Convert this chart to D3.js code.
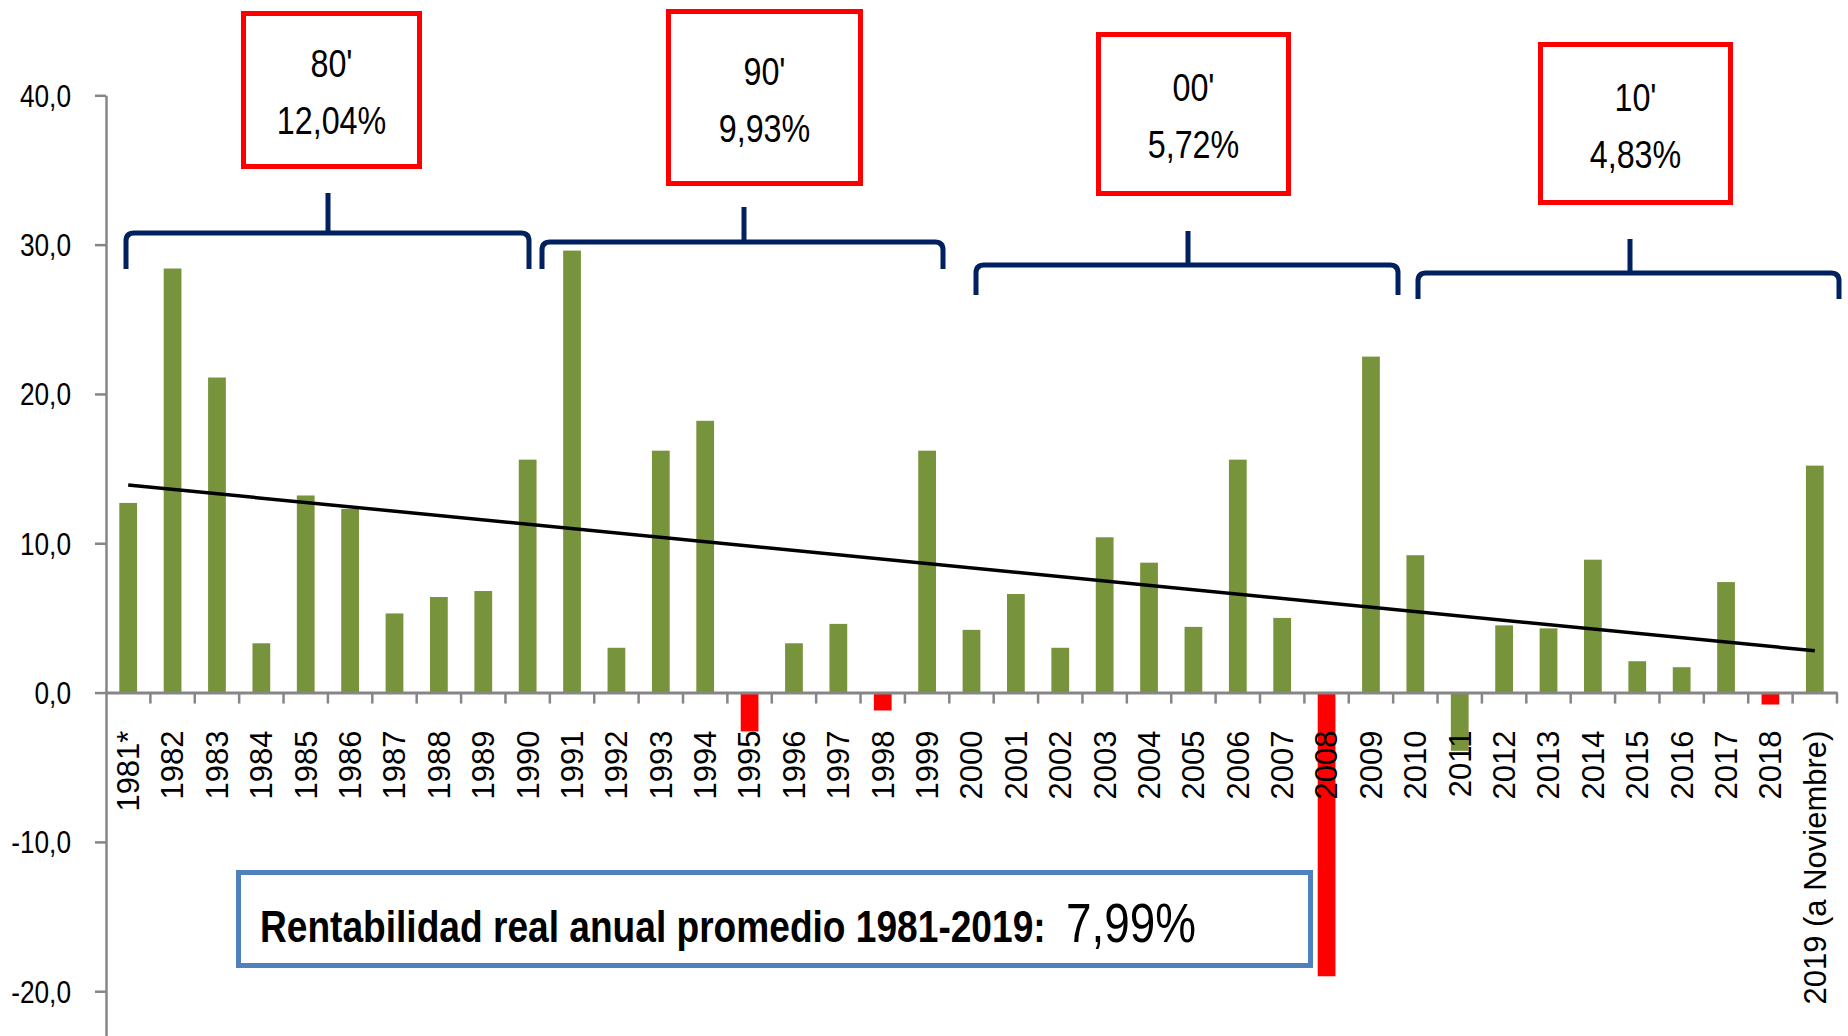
<!DOCTYPE html>
<html lang="es">
<head>
<meta charset="UTF-8">
<title>Rentabilidad real anual</title>
<script src="https://cdn.jsdelivr.net/npm/d3@7"></script>
<style>
    body { margin: 0; background: #fff; }
    svg { display: block; }
    text { font-family: "Liberation Sans", Arial, sans-serif; }
</style>
</head>
<body>
<div id="chart"></div>
<script>
// datos
const years = ["1981*", "1982", "1983", "1984", "1985", "1986", "1987", "1988", "1989", "1990",
    "1991", "1992", "1993", "1994", "1995", "1996", "1997", "1998", "1999", "2000",
    "2001", "2002", "2003", "2004", "2005", "2006", "2007", "2008", "2009", "2010",
    "2011", "2012", "2013", "2014", "2015", "2016", "2017", "2018", "2019 (a Noviembre)"]
const returns = [12.7, 28.4, 21.1, 3.3, 13.2, 12.3, 5.3, 6.4, 6.8, 15.6,
    29.6, 3.0, 16.2, 18.2, -2.6, 3.3, 4.6, -1.2, 16.2, 4.2,
    6.6, 3.0, 10.4, 8.7, 4.4, 15.6, 5.0, -19.0, 22.5, 9.2,
    -3.9, 4.5, 4.3, 8.9, 2.1, 1.7, 7.4, -0.8, 15.2]
const redYears = ["1995", "1998", "2008", "2018"]
const trend = [13.9, 2.8]          // tendencia lineal, primer y último año
const yTicks = [40, 30, 20, 10, 0, -10, -20]
const decades = ["80'", "90'", "00'", "10'"]
const decadeAvg = ["12,04%", "9,93%", "5,72%", "4,83%"]
const summaryLabel = "Rentabilidad real anual promedio 1981-2019:"
const summaryValue = "7,99%"

const width = 1848, height = 1036

const svg = d3.select('#chart').append('svg')
    .attr('width', width)
    .attr('height', height)

const x = d3.scaleBand()
    .domain(years)
    .range([106, 1837])
    .paddingInner(0.6)
    .paddingOuter(0.3)

const y = d3.scaleLinear()
    .domain([-23.2, 40])
    .range([1039, 95.3])

const es = d3.formatLocale({decimal: ',', thousands: '.', grouping: [3], currency: ['', ''], minus: '-'})
const fmt = es.format('.1f')

// estrecha un texto en horizontal (fuente angosta tipo Calibri/Tahoma)
function narrow(sel, ax, ay, sx) {
    sel.attr('x', 0).attr('y', 0)
        .attr('transform', `translate(${ax},${ay}) scale(${sx},1)`)
}
function fitTo(sel, ax, ay, w) {
    sel.attr('x', 0).attr('y', 0)
    const len = sel.node().getComputedTextLength()
    sel.attr('transform', `translate(${ax},${ay}) scale(${w / len},1)`)
}

// barras
svg.append('g').selectAll('rect')
    .data(returns)
    .join('rect')
    .attr('x', (d, i) => x(years[i]))
    .attr('width', x.bandwidth())
    .attr('y', d => y(Math.max(d, 0)))
    .attr('height', d => Math.abs(y(d) - y(0)))
    .attr('fill', (d, i) => redYears.includes(years[i]) ? '#ff0000' : '#77933c')

// eje Y
const yAxis = svg.append('g')
    .attr('transform', 'translate(106,0)')
    .call(d3.axisLeft(y).tickValues(yTicks).tickFormat(fmt).tickSize(11).tickSizeOuter(0).tickPadding(24))
yAxis.select('.domain').attr('stroke', '#868686').attr('stroke-width', 2.5)
yAxis.selectAll('.tick line').attr('stroke', '#868686').attr('stroke-width', 2.5)
yAxis.selectAll('text')
    .attr('fill', '#000')
    .style('font-size', '32px')
    .each(function () {
        const t = d3.select(this)
        const len = this.getComputedTextLength()
        const sx = Math.min(0.82, 66 / len)
        t.attr('x', 0).attr('dy', null).attr('dominant-baseline', 'central')
            .attr('transform', `translate(-35,0) scale(${sx},1)`)
    })

// eje X
const xAxis = svg.append('g')
    .attr('transform', `translate(0,${y(0)})`)
    .call(d3.axisBottom(x).tickSize(0).tickSizeOuter(0))
xAxis.select('.domain').attr('stroke', '#868686').attr('stroke-width', 3)
xAxis.selectAll('text')
    .attr('transform', 'rotate(-90)')
    .attr('x', -38)
    .attr('y', 0)
    .attr('dy', '0.35em')
    .attr('fill', '#000')
    .style('text-anchor', 'end')
    .style('font-size', '31px')

xAxis.selectAll('line.sep')
    .data(years)
    .join('line')
    .attr('class', 'sep')
    .attr('x1', d => x(d) + x.bandwidth() + x.step() * x.paddingInner() / 2)
    .attr('x2', d => x(d) + x.bandwidth() + x.step() * x.paddingInner() / 2)
    .attr('y1', 0)
    .attr('y2', 11)
    .attr('stroke', '#868686')
    .attr('stroke-width', 2.5)

// tendencia
const trendPts = [[years[0], trend[0]], [years[years.length - 1], trend[1]]]
svg.append('path')
    .datum(trendPts)
    .attr('d', d3.line().x(d => x(d[0]) + x.bandwidth() / 2).y(d => y(d[1])))
    .attr('stroke', '#000')
    .attr('stroke-width', 3.5)
    .attr('fill', 'none')

// llaves de cada década
const braceLayout = [
    {x0: 126, x1: 529, y: 233, foot: 269, tip: 193, xm: 328},
    {x0: 542, x1: 943, y: 242, foot: 269, tip: 207, xm: 744},
    {x0: 976, x1: 1398, y: 265, foot: 295, tip: 231, xm: 1188},
    {x0: 1418, x1: 1839, y: 273, foot: 299, tip: 239, xm: 1630}
]
const r = 8
svg.append('g').selectAll('path')
    .data(braceLayout)
    .join('path')
    .attr('d', b => `M${b.x0},${b.foot} V${b.y + r} Q${b.x0},${b.y} ${b.x0 + r},${b.y} H${b.x1 - r} Q${b.x1},${b.y} ${b.x1},${b.y + r} V${b.foot} M${b.xm},${b.y} V${b.tip}`)
    .attr('fill', 'none')
    .attr('stroke', '#002060')
    .attr('stroke-width', 5)

// cuadros rojos
const boxLayout = [
    {x: 243.5, y: 13.5, w: 176, h: 153},
    {x: 668.5, y: 11.5, w: 192, h: 172},
    {x: 1098.5, y: 34.5, w: 190, h: 159},
    {x: 1540.5, y: 44.5, w: 190, h: 158}
]
const boxes = svg.append('g').selectAll('g')
    .data(boxLayout)
    .join('g')
boxes.append('rect')
    .attr('x', b => b.x).attr('y', b => b.y)
    .attr('width', b => b.w).attr('height', b => b.h)
    .attr('fill', '#fff')
    .attr('stroke', '#ff0000')
    .attr('stroke-width', 5)
boxes.append('text')
    .attr('text-anchor', 'middle')
    .style('font-size', '38px')
    .text((b, i) => decades[i])
    .each(function (b) { narrow(d3.select(this), b.x + b.w / 2, b.y + b.h / 2 - 13, 0.85) })
boxes.append('text')
    .attr('text-anchor', 'middle')
    .style('font-size', '38px')
    .text((b, i) => decadeAvg[i])
    .each(function (b) { narrow(d3.select(this), b.x + b.w / 2, b.y + b.h / 2 + 44, 0.85) })

// cuadro resumen
svg.append('rect')
    .attr('x', 238.5).attr('y', 872.5)
    .attr('width', 1072).attr('height', 93)
    .attr('fill', '#fff')
    .attr('stroke', '#4f81bd')
    .attr('stroke-width', 5)
svg.append('text')
    .style('font-size', '44px')
    .style('font-weight', 'bold')
    .text(summaryLabel)
    .call(fitTo, 260, 942, 786)
svg.append('text')
    .style('font-size', '56px')
    .text(summaryValue)
    .call(fitTo, 1066, 942, 130)
</script>
</body>
</html>
